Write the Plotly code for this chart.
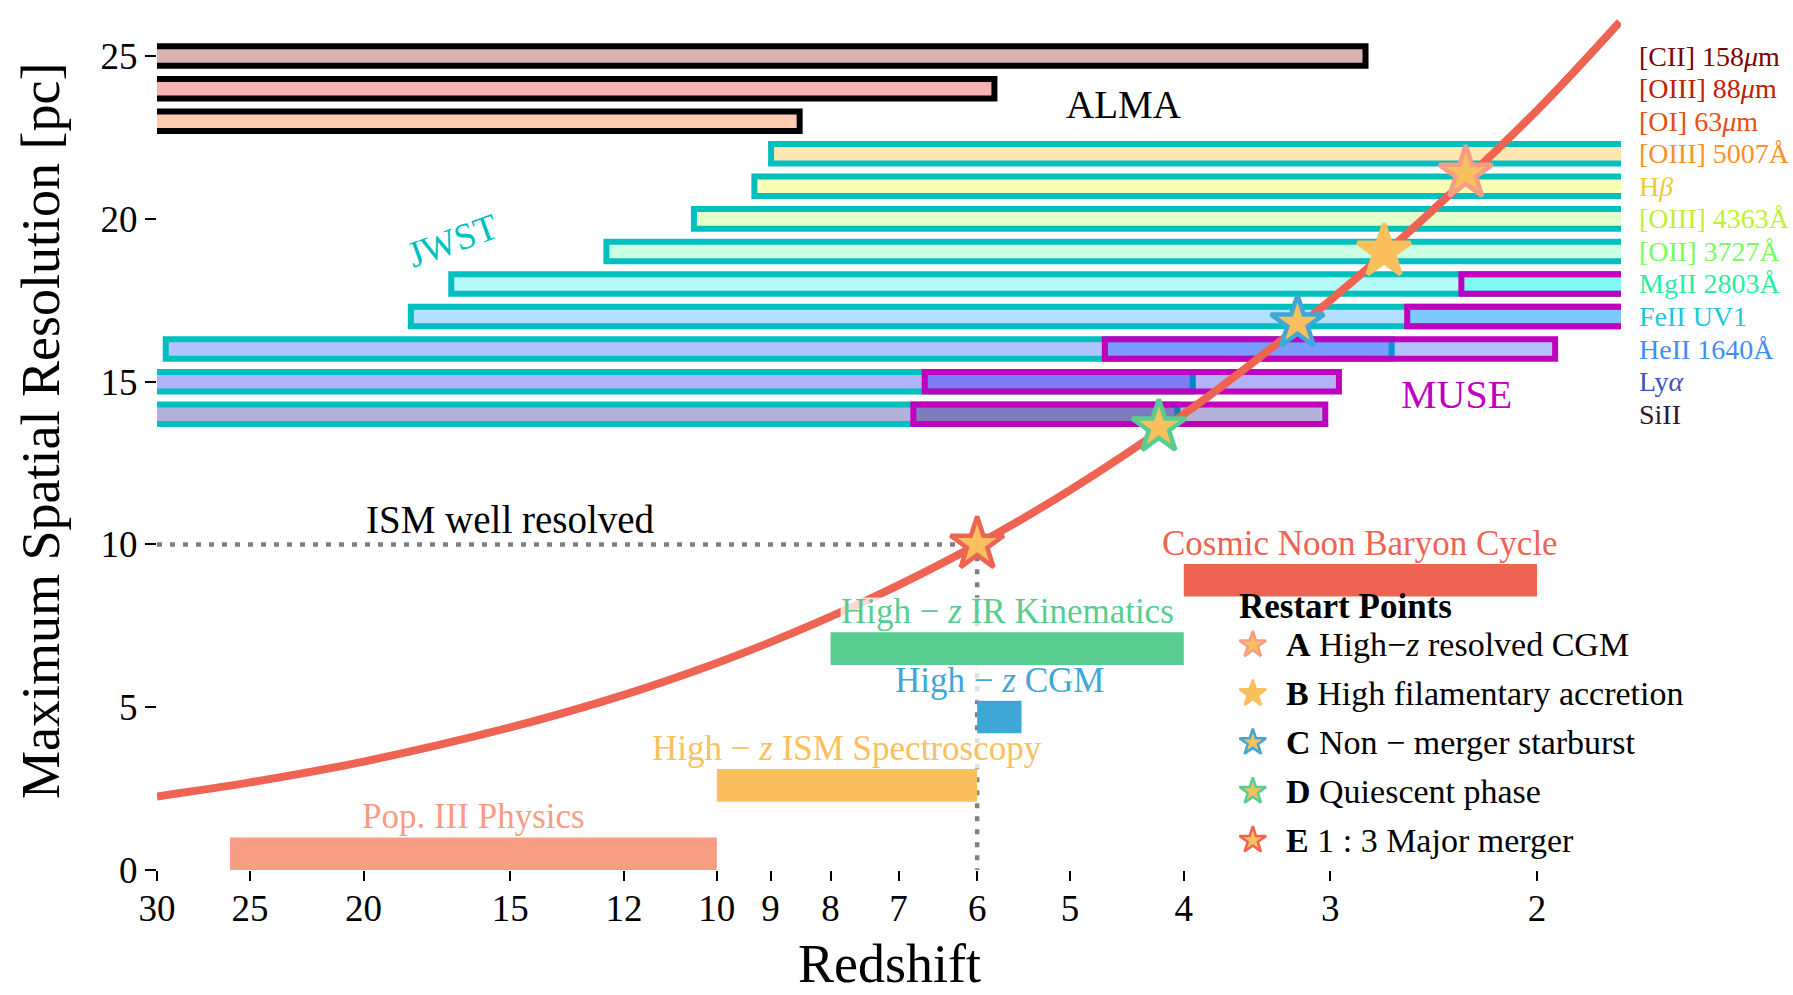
import numpy as np
import plotly.graph_objects as go
from plotly.colors import sample_colorscale, sequential

FONT = "Liberation Serif"

# ---------------- emission lines (top to bottom) ----------------
line_names = ["[CII] 158<i>μ</i>m", "[OIII] 88<i>μ</i>m", "[OI] 63<i>μ</i>m",
              "[OIII] 5007Å", "H<i>β</i>", "[OIII] 4363Å", "[OII] 3727Å",
              "MgII 2803Å", "FeII UV1", "HeII 1640Å", "Ly<i>α</i>", "SiII"]
line_rows = [25, 24, 23, 22, 21, 20, 19, 18, 17, 16, 15, 14]

# redshift coverage per instrument (high-z end, low-z end)
alma_rows = [25, 24, 23]
alma_z_high = [53.0, 96.0, 134.0]
alma_z_low = [2.80, 5.80, 8.50]

jwst_rows = [22, 21, 20, 19, 18, 17, 16, 15, 14]
jwst_z_high = [8.99, 9.29, 10.46, 12.42, 16.84, 18.23, 29.49, 40.1, 41.0]
jwst_z_low = [0.20, 0.23, 0.38, 0.61, 1.14, 1.31, 2.66, 3.93, 4.05]

muse_rows = [18, 17, 16, 15, 14]
muse_z_high = [2.32, 2.58, 4.67, 6.65, 6.80]
muse_z_low = [0.66, 0.79, 1.93, 2.95, 3.03]

# ---------------- science goals ----------------
goal_names = ["Pop. III Physics", "High − <i>z</i> ISM Spectroscopy", "High − <i>z</i> CGM",
              "High − <i>z</i> IR Kinematics", "Cosmic Noon Baryon Cycle"]
goal_rows = [0.5, 2.6, 4.7, 6.8, 8.9]
goal_z_high = [26.0, 10.0, 6.0, 8.0, 4.0]
goal_z_low = [10.0, 6.0, 5.5, 4.0, 2.0]

# ---------------- simulation resolution curve ----------------
curve_z = [30, 25, 20, 15, 12, 10, 9, 8, 7, 6, 5, 4, 3.5, 3, 2.5, 2, 1.7]
curve_res = [2.26, 2.69, 3.33, 4.38, 5.38, 6.36, 7.00, 7.78, 8.75, 10.00,
             11.67, 14.00, 15.56, 17.50, 20.00, 23.33, 26.05]

# ---------------- restart points ----------------
restart_letters = ["A", "B", "C", "D", "E"]
restart_desc = ["High−<i>z</i> resolved CGM", "High filamentary accretion",
                "Non − merger starburst", "Quiescent phase", "1 : 3 Major merger"]
restart_z = [2.3, 2.7, 3.2, 4.2, 6.0]
restart_res = [21.4, 19.0, 16.8, 13.6, 10.0]

ism_res = 10.0
ism_z = 6.0

x_ticks = [30, 25, 20, 15, 12, 10, 9, 8, 7, 6, 5, 4, 3, 2]
y_ticks = [0, 5, 10, 15, 20, 25]
z_range = (30, 1.696)
res_range = (0, 26.6)

# ---------------- styles ----------------
PALETTE = ["#F79D84", "#FAC05E", "#3FA7D6", "#59CD90", "#EE6352"]
STAR_FILL = "#FAC05E"
CURVE_COLOR = "#EE6352"
JWST_EDGE = "#00bfbf"
MUSE_EDGE = "#bf00bf"
ALMA_EDGE = "#000000"
# jet colormap samples (top row -> bottom row), used at alpha 0.3 for bar fills
JET = [(128, 0, 0), (232, 0, 0), (255, 87, 0), (255, 173, 0), (236, 255, 11),
       (161, 255, 86), (86, 255, 161), (11, 244, 236), (0, 151, 255),
       (0, 58, 255), (0, 0, 233), (0, 0, 128)]
n_lines = len(line_rows)
TEXT_COLORS = sample_colorscale(sequential.Turbo, [1 - i / (n_lines - 1) for i in range(n_lines)])
row_idx = {r: i for i, r in enumerate(line_rows)}


def fill(rows, alpha=0.3):
    return [f"rgba({JET[row_idx[r]][0]},{JET[row_idx[r]][1]},{JET[row_idx[r]][2]},{alpha})" for r in rows]


fig = go.Figure()

# "ISM well resolved" guide lines (beneath the bars)
fig.add_trace(go.Scatter(
    x=[z_range[0], ism_z, ism_z], y=[ism_res, ism_res, res_range[0]],
    mode="lines", line=dict(color="#808080", width=4.5, dash="5px,8px"),
    zorder=0, showlegend=False, hoverinfo="skip"))


def coverage(rows, z_hi, z_lo, edge):
    fig.add_trace(go.Bar(
        orientation="h", y=rows, base=z_lo,
        x=[h - l for h, l in zip(z_hi, z_lo)], width=0.6,
        marker=dict(color=fill(rows), line=dict(color=edge, width=6)),
        zorder=1, showlegend=False, hoverinfo="skip"))


coverage(alma_rows, alma_z_high, alma_z_low, ALMA_EDGE)
coverage(jwst_rows, jwst_z_high, jwst_z_low, JWST_EDGE)
coverage(muse_rows, muse_z_high, muse_z_low, MUSE_EDGE)

# science goal bars
fig.add_trace(go.Bar(
    orientation="h", y=goal_rows, base=goal_z_low,
    x=[h - l for h, l in zip(goal_z_high, goal_z_low)], width=1.0,
    marker=dict(color=PALETTE, line=dict(width=0)),
    zorder=1, showlegend=False, hoverinfo="skip"))

# resolution curve
fig.add_trace(go.Scatter(
    x=curve_z, y=curve_res, mode="lines",
    line=dict(color=CURVE_COLOR, width=8, shape="spline"),
    zorder=2, showlegend=False, hoverinfo="skip"))

# restart points on the curve
fig.add_trace(go.Scatter(
    x=restart_z, y=restart_res, mode="markers", cliponaxis=False,
    marker=dict(symbol="star", size=40, color=STAR_FILL,
                line=dict(color=PALETTE, width=4.5)),
    zorder=3, showlegend=False, hoverinfo="skip"))

# legend keys (drawn on a hidden helper axis)
fig.add_trace(go.Scatter(
    x=[0] * len(restart_letters), y=list(range(len(restart_letters))),
    xaxis="x2", yaxis="y2", mode="markers", cliponaxis=False,
    marker=dict(symbol="star", size=20, color=STAR_FILL,
                line=dict(color=PALETTE, width=2.5)),
    showlegend=False, hoverinfo="skip"))

ann = []
# emission line labels on the right
for r, name, col in zip(line_rows, line_names, TEXT_COLORS):
    ann.append(dict(text=name, xref="paper", x=1.0, xanchor="left", xshift=16,
                    yref="y", y=r, yanchor="middle", showarrow=False,
                    font=dict(family=FONT, size=28, color=col)))

# science goal labels (slightly see-through white box behind the text)
for name, r, hi, lo, col in zip(goal_names, goal_rows, goal_z_high, goal_z_low, PALETTE):
    ann.append(dict(text=name, xref="x", x=np.log10(np.sqrt(hi * lo)), xanchor="center",
                    yref="y", y=r + 0.5, yanchor="bottom", showarrow=False,
                    height=33, valign="bottom",
                    bgcolor="rgba(255,255,255,0.75)", borderpad=0,
                    font=dict(family=FONT, size=35, color=col)))

# instrument names
ann.append(dict(text="ALMA", x=np.log10(4.5), y=23.5, xref="x", yref="y", showarrow=False,
                font=dict(family=FONT, size=39, color="black")))
ann.append(dict(text="MUSE", x=np.log10(2.34), y=14.6, xref="x", yref="y", showarrow=False,
                font=dict(family=FONT, size=40, color=MUSE_EDGE)))
ann.append(dict(text="JWST", x=np.log10(16.8), y=19.35, xref="x", yref="y", showarrow=False,
                textangle=-20, font=dict(family=FONT, size=37, color=JWST_EDGE)))

ann.append(dict(text="ISM well resolved", x=np.log10(15), y=ism_res, xref="x", yref="y",
                yanchor="bottom", yshift=1, showarrow=False,
                font=dict(family=FONT, size=39, color="black")))

# legend text
ann.append(dict(text="<b>Restart Points</b>", xref="paper", yref="paper", x=0.7384, y=0.3045,
                xanchor="left", yanchor="middle", showarrow=False, borderpad=0,
                font=dict(family=FONT, size=35, color="black")))
for i, (letter, desc) in enumerate(zip(restart_letters, restart_desc)):
    ann.append(dict(text=f"<b>{letter}</b> {desc}", xref="x2", yref="y2", x=0, y=i,
                    xanchor="left", xshift=32, yanchor="middle", showarrow=False,
                    borderpad=0, font=dict(family=FONT, size=34, color="black")))

# axis titles
ann.append(dict(text="Redshift", xref="paper", yref="paper", x=0.5, y=0, yshift=-124.5,
                xanchor="center", yanchor="bottom", showarrow=False, borderpad=0,
                font=dict(family=FONT, size=54, color="black")))
ann.append(dict(text="Maximum Spatial Resolution [pc]", xref="paper", yref="paper",
                x=0, xshift=-116, y=0.507, xanchor="center", yanchor="middle",
                textangle=-90, showarrow=False,
                font=dict(family=FONT, size=54, color="black")))

fig.update_layout(
    width=1793, height=995,
    margin=dict(l=157, r=172, t=4, b=125),
    paper_bgcolor="white", plot_bgcolor="rgba(0,0,0,0)",
    barmode="overlay",
    showlegend=False,
    annotations=ann,
    font=dict(family=FONT, color="black"),
    xaxis=dict(type="log", range=[np.log10(z_range[0]), np.log10(z_range[1])],
               tickvals=x_ticks, ticktext=[str(t) for t in x_ticks],
               ticks="outside", ticklen=10, tickwidth=2, tickcolor="black",
               ticklabelstandoff=-4,
               showline=False, showgrid=False, zeroline=False,
               tickfont=dict(family=FONT, size=37, color="black")),
    yaxis=dict(range=list(res_range), tickvals=y_ticks,
               ticks="outside", ticklen=11, tickwidth=2, tickcolor="black",
               showline=False, showgrid=False, zeroline=False,
               tickfont=dict(family=FONT, size=37, color="black")),
    xaxis2=dict(domain=[0.7385, 0.7585], range=[-1, 1], visible=False, anchor="y2",
                fixedrange=True),
    yaxis2=dict(domain=[0.0062, 0.2882], range=[4.5, -0.5], visible=False, anchor="x2",
                fixedrange=True),
)

fig.write_html("out.html")
